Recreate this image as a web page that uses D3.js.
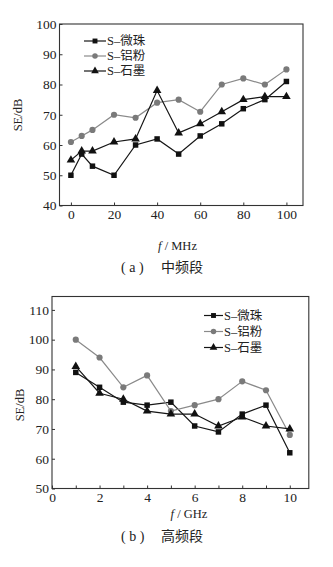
<!DOCTYPE html>
<html><head><meta charset="utf-8">
<script src="https://cdn.jsdelivr.net/npm/d3@7"></script>
<style>
html,body{margin:0;padding:0;background:#fff;}
svg{display:block;}
text{font-family:"Liberation Serif","Noto Sans CJK SC",serif;fill:#222;}
</style></head><body>
<script>
// ---- data ----
const seriesNames = ["S\u2013微珠", "S\u2013铝粉", "S\u2013石墨"];
const midFreq = [0, 5, 10, 20, 30, 40, 50, 60, 70, 80, 90, 100];
const midWeizhu = [50, 57, 53, 50, 60, 62, 57, 63, 67, 72, 75, 81];
const midLvfen  = [61, 63, 65, 70, 69, 74, 75, 71, 80, 82, 80, 85];
const midShimo  = [55, 58, 58, 61, 62, 78, 64, 67, 71, 75, 76, 76];
const midXTicks = [0, 20, 40, 60, 80, 100];
const midYTicks = [40, 50, 60, 70, 80, 90, 100];

const highFreq = [1, 2, 3, 4, 5, 6, 7, 8, 9, 10];
const highWeizhu = [89, 84, 79, 78, 79, 71, 69, 75, 78, 62];
const highLvfen  = [100, 94, 84, 88, 76, 78, 80, 86, 83, 68];
const highShimo  = [91, 82, 80, 76, 75, 75, 71, 74, 71, 70];
const highXTicks = [0, 1, 2, 3, 4, 5, 6, 7, 8, 9, 10];
const highXLabels = [0, 2, 4, 6, 8, 10];
const highYTicks = [50, 60, 70, 80, 90, 100, 110];

const W = 333, H = 567;
const svg = d3.select("body").append("svg").attr("width", W).attr("height", H);

const styles = [
  {line: "#151515", fill: "#111", shape: d3.symbolSquare, size: 30},
  {line: "#8a8a8a", fill: "#7a7a7a", shape: d3.symbolCircle, size: 30},
  {line: "#151515", fill: "#111", shape: d3.symbolTriangle, size: 32}
];

function drawChart(cfg) {
  const g = svg.append("g");
  const x = d3.scaleLinear().domain(cfg.xDomain).range([cfg.left, cfg.right]);
  const y = d3.scaleLinear().domain(cfg.yDomain).range([cfg.bottom, cfg.top]);

  // frame
  g.append("rect").attr("x", cfg.left).attr("y", cfg.top)
    .attr("width", cfg.right - cfg.left).attr("height", cfg.bottom - cfg.top)
    .attr("fill", "none").attr("stroke", "#333").attr("stroke-width", 1.1);

  // x axis (inward ticks)
  const xAxis = d3.axisBottom(x).tickValues(cfg.xTicks).tickSize(-3).tickSizeOuter(0)
    .tickFormat(d => cfg.xLabels.includes(d) ? d : "");
  const xa = g.append("g").attr("transform", `translate(0,${cfg.bottom})`).call(xAxis);
  xa.select(".domain").remove();
  xa.selectAll("line").attr("stroke", "#333");
  xa.selectAll("text").attr("font-size", 13.5).attr("dy", "0.71em").attr("y", 4).style("fill", "#222");

  // y axis (inward ticks)
  const yAxis = d3.axisLeft(y).tickValues(cfg.yTicks).tickSize(-3).tickSizeOuter(0);
  const ya = g.append("g").attr("transform", `translate(${cfg.left},0)`).call(yAxis);
  ya.select(".domain").remove();
  ya.selectAll("line").attr("stroke", "#333");
  ya.selectAll("text").attr("font-size", 13.5).attr("x", -3).style("fill", "#222");

  // series
  const line = d3.line().x(d => x(d[0])).y(d => y(d[1]));
  cfg.series.forEach((vals, i) => {
    const pts = cfg.xs.map((v, j) => [v, vals[j]]);
    const st = styles[i];
    g.append("path").datum(pts).attr("d", line).attr("fill", "none")
      .attr("stroke", st.line).attr("stroke-width", 1.2);
    g.selectAll(null).data(pts).enter().append("path")
      .attr("transform", d => `translate(${x(d[0])},${y(d[1])})`)
      .attr("d", d3.symbol().type(st.shape).size(st.size))
      .attr("fill", st.fill);
  });

  // legend
  seriesNames.forEach((name, i) => {
    const st = styles[i];
    const ly = cfg.legY + i * cfg.legStep;
    g.append("line").attr("x1", cfg.legX).attr("x2", cfg.legX + cfg.legLen)
      .attr("y1", ly).attr("y2", ly).attr("stroke", st.line).attr("stroke-width", 1.2);
    g.append("path").attr("transform", `translate(${cfg.legX + cfg.legLen / 2},${ly})`)
      .attr("d", d3.symbol().type(st.shape).size(st.size * 0.8)).attr("fill", st.fill);
    g.append("text").attr("x", cfg.legX + cfg.legLen + 1).attr("y", ly)
      .attr("dy", "0.35em").attr("font-size", 12.5).text(name);
  });

  // axis titles
  g.append("text").attr("transform", `translate(${cfg.yTitleX},${cfg.yTitleY}) rotate(-90)`)
    .attr("text-anchor", "middle").attr("dy", "0.35em").attr("font-size", 12.5).text("SE/dB");
  const xt = g.append("text").attr("x", cfg.xTitleX).attr("y", cfg.xTitleY)
    .attr("text-anchor", "middle").attr("dy", "0.35em").attr("font-size", 12.5);
  xt.append("tspan").attr("font-style", "italic").text("f");
  xt.append("tspan").text(" / " + cfg.unit);

  // caption
  const cap = g.append("text").attr("x", cfg.capX).attr("y", cfg.capY)
    .attr("dy", "0.35em").attr("font-size", 14);
  cap.append("tspan").text("( " + cfg.capLetter + " )");
  cap.append("tspan").attr("x", cfg.capX + 40).text(cfg.capText);
}

drawChart({
  left: 59.5, right: 303, top: 24, bottom: 205.5,
  xDomain: [-5.3, 107.7], yDomain: [40, 100],
  xTicks: midXTicks, xLabels: midXTicks, yTicks: midYTicks,
  xs: midFreq, series: [midWeizhu, midLvfen, midShimo],
  legX: 84, legLen: 22, legY: 41, legStep: 15,
  yTitleX: 18, yTitleY: 115, xTitleX: 177.5, xTitleY: 246, unit: "MHz",
  capX: 121, capY: 267, capLetter: "a", capText: "中频段"
});

drawChart({
  left: 52, right: 308.8, top: 296.5, bottom: 488.5,
  xDomain: [0, 10.8], yDomain: [50, 114.5],
  xTicks: highXTicks, xLabels: highXLabels, yTicks: highYTicks,
  xs: highFreq, series: [highWeizhu, highLvfen, highShimo],
  legX: 204, legLen: 19, legY: 315.5, legStep: 16,
  yTitleX: 20, yTitleY: 405, xTitleX: 189, xTitleY: 514, unit: "GHz",
  capX: 121, capY: 536, capLetter: "b", capText: "高频段"
});
</script>
</body></html>
